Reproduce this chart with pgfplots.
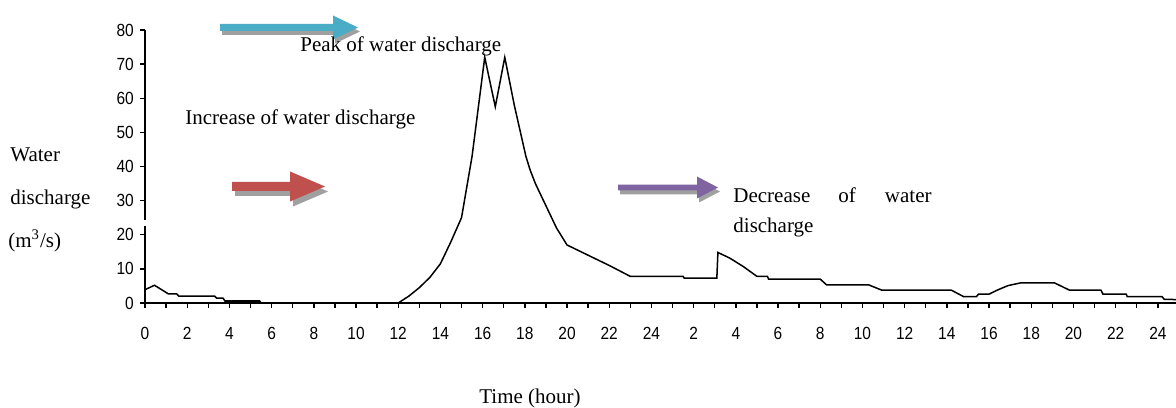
\documentclass[border=0pt]{standalone}
\usepackage{pgfplots}
\pgfplotsset{compat=1.18}
\usepackage{fontspec}
\setmainfont{Liberation Serif}
\newfontfamily\tickfont{Liberation Sans}
\definecolor{cblue}{HTML}{4BACC6}
\definecolor{cred}{HTML}{C0504D}
\definecolor{cpurple}{HTML}{8064A2}
\definecolor{cshadow}{HTML}{A0A0A0}
% #1 colour, #2 x start, #3 x head base, #4 x tip, #5 y centre, #6 shaft half, #7 head half (pixels)
\newcommand\arr[8]{%
\fill[#1,#8] ({#2*0.5pt},{(407-#5+#6)*0.5pt}) -- ({#3*0.5pt},{(407-#5+#6)*0.5pt}) -- ({#3*0.5pt},{(407-#5+#7)*0.5pt}) -- ({#4*0.5pt},{(407-#5)*0.5pt}) -- ({#3*0.5pt},{(407-#5-#7)*0.5pt}) -- ({#3*0.5pt},{(407-#5-#6)*0.5pt}) -- ({#2*0.5pt},{(407-#5-#6)*0.5pt}) -- cycle;}
\newcommand\txt[3]{\node[anchor=base west,inner sep=0pt,font=\fontsize{10.5}{12}\selectfont] at ({#1*0.5pt},{(407-#2)*0.5pt}) {#3};}
\begin{document}
\begin{tikzpicture}
\begin{axis}[
 at={(72.5pt,52pt)}, anchor=south west,
 scale only axis, width=515.5pt, height=136.5pt,
 xmin=0, xmax=48.86, ymin=0, ymax=80,
 axis x line*=bottom, axis y line*=left,
 axis line style={line width=1pt},
 xtick={0,2,...,48},
 xticklabels={0,2,4,6,8,10,12,14,16,18,20,22,24,2,4,6,8,10,12,14,16,18,20,22,24},
 minor xtick={1,3,...,47},
 ytick={0,10,...,80},
 tick align=outside, major tick length=2.5pt, minor tick length=2.5pt,
 every tick/.style={black, line width=0.7pt},
 ticklabel style={font=\tickfont\fontsize{8.8}{10}\selectfont, xscale=0.88},
 xticklabel style={yshift=-6pt},
 /pgf/number format/assume math mode=true,
]
\addplot[black, line width=0.75pt] coordinates {
(0,3.9) (0.45,5.2) (1.1,2.7) (1.5,2.7) (1.6,2) (3.3,2) (3.4,1.4) (3.7,1.4) (3.8,0.5) (5.45,0.5) (5.5,0)
(12,0) (12.5,2) (13,4.5) (13.5,7.5) (14,11.5) (14.5,18) (15,25) (15.25,34) (15.5,43) (16.1,72) (16.6,57.5)
(17.05,72) (17.5,58) (18.05,43) (18.25,39) (18.5,35) (19,28.5) (19.5,22) (20,17) (20.5,15.5) (21,14)
(22,11) (23,7.8) (25.5,7.8) (25.55,7.3) (27.1,7.3) (27.15,14.8) (27.7,13.2) (28.35,10.7) (29,7.8)
(29.5,7.8) (29.55,7) (32,7) (32.3,5.3) (34.3,5.3) (34.9,3.8) (38.2,3.8) (38.8,1.85) (39.4,1.85)
(39.5,2.6) (40,2.6) (40.4,3.8) (40.9,5.1) (41.5,5.9) (43.1,5.9) (43.5,4.7) (43.8,3.8) (45.3,3.8)
(45.4,2.6) (46.5,2.6) (46.55,1.85) (48.2,1.85) (48.3,1.1) (48.86,1.0)};
\addplot[black, line width=1.6pt] coordinates {(3.8,0.5) (5.45,0.5)};
\end{axis}
% small break in the y axis
\fill[white] ({127*0.5pt},{(407-226)*0.5pt}) rectangle ({148*0.5pt},{(407-220)*0.5pt});
% arrows
\arr{cshadow}{220}{333}{358}{27.5}{3.5}{12}{xshift=1pt,yshift=-2pt}
\arr{cblue}{220}{333}{358}{27.5}{3.5}{12}{}
\arr{cshadow}{232}{290}{325}{186.5}{4.5}{15}{xshift=1.5pt,yshift=-2.5pt}
\arr{cred}{232}{290}{325}{186.5}{4.5}{15}{}
\arr{cshadow}{618}{697}{718}{187.5}{2.8}{11}{xshift=1pt,yshift=-2pt}
\arr{cpurple}{618}{697}{718}{187.5}{2.8}{11}{}
% texts
\txt{300}{52}{Peak of water discharge}
\txt{185}{125}{Increase of water discharge}
\txt{10}{162}{Water}
\txt{10}{205}{discharge}
\txt{8}{247}{(m\textsuperscript{3}/s)}
\txt{733}{203}{Decrease}
\txt{838}{203}{of}
\node[anchor=base east,inner sep=0pt,font=\fontsize{10.5}{12}\selectfont] at ({932*0.5pt},{(407-203)*0.5pt}) {water};
\txt{733}{233}{discharge}
\node[anchor=base,inner sep=0pt,font=\fontsize{10.5}{12}\selectfont] at ({530*0.5pt},{(407-403)*0.5pt}) {Time (hour)};
\pgfresetboundingbox
\path[use as bounding box] (0,0) rectangle (588pt,203.5pt);
\end{tikzpicture}
\end{document}
